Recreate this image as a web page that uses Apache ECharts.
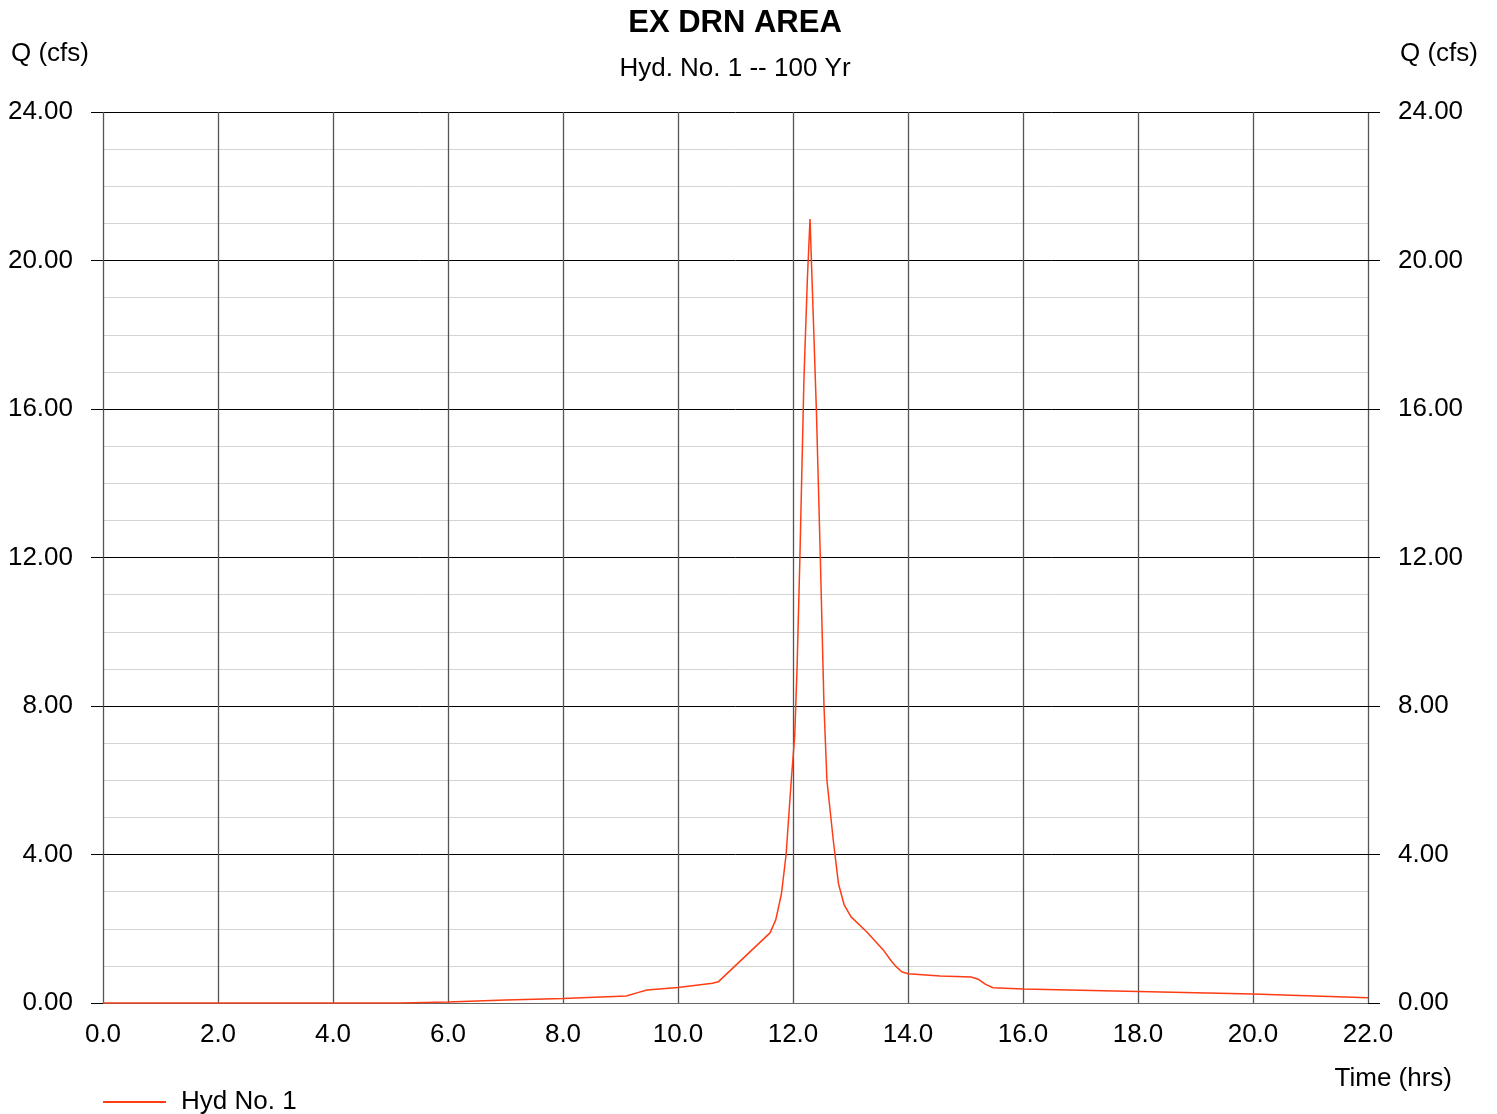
<!DOCTYPE html>
<html>
<head>
<meta charset="utf-8">
<script src="https://cdn.jsdelivr.net/npm/echarts@6/dist/echarts.min.js"></script>
<style>
  html, body { margin: 0; padding: 0; background: #fff; }
  #chart { width: 1497px; height: 1114px; }
</style>
</head>
<body>
<div id="chart"></div>
<script>
// hydrograph: time (hrs) and flow (cfs)
var times = [0, 5.2, 6, 7, 8, 9.1, 9.3, 9.46, 10, 10.6, 10.7, 11.6, 11.7, 11.8, 11.88, 11.97,
    12.03, 12.07, 12.12, 12.19, 12.25, 12.296, 12.406, 12.475, 12.539, 12.59, 12.7, 12.79,
    12.89, 13.01, 13.28, 13.57, 13.7, 13.78, 13.89, 14.0, 14.56, 15.1, 15.22, 15.35, 15.48,
    16, 18, 20, 22];
var flows = [0, 0, 0.03, 0.08, 0.12, 0.19, 0.28, 0.35, 0.42, 0.53, 0.57, 1.89, 2.24, 2.95, 4.0, 6.0,
    7.2, 9.0, 12.0, 16.8, 19.5, 21.12, 16.0, 12.0, 8.0, 6.0, 4.39, 3.22,
    2.64, 2.32, 1.92, 1.43, 1.15, 1.0, 0.84, 0.79, 0.73, 0.7, 0.64, 0.5, 0.41,
    0.38, 0.31, 0.24, 0.14];
var xTicks = { min: 0, max: 22, step: 2 };
var yTicks = { min: 0, max: 24, step: 4 };

var points = times.map(function (t, i) { return [t, flows[i]]; });

var font = "Liberation Sans, Arial, sans-serif";
var myChart = echarts.init(document.getElementById("chart"));

var yAxisBase = {
    type: "value",
    min: yTicks.min,
    max: yTicks.max,
    interval: yTicks.step,
    axisLine: { show: false },
    axisTick: { show: true, length: 12, lineStyle: { color: "#000" } },
    axisLabel: {
        fontSize: 26, fontFamily: font, color: "#000", margin: 30,
        padding: [4, 0, 0, 0],
        formatter: function (v) { return v.toFixed(2); }
    },
};

var option = {
    animation: false,
    backgroundColor: "#fff",
    grid: { left: 103, right: 129, top: 112, bottom: 111, containLabel: false },
    xAxis: {
        type: "value",
        min: xTicks.min,
        max: xTicks.max,
        interval: xTicks.step,
        axisLine: { show: true, lineStyle: { color: "#666", width: 1 } },
        axisTick: { show: false },
        axisLabel: {
            fontSize: 26, fontFamily: font, color: "#000", margin: 19,
            formatter: function (v) { return v.toFixed(1); }
        },
        splitLine: { show: true, lineStyle: { color: "#555", width: 1.3 } },
    },
    yAxis: [
        Object.assign({}, yAxisBase, {
            position: "left",
            splitLine: { show: true, lineStyle: { color: "#000", width: 1 } },
            minorTick: { show: false, splitNumber: 4 },
            minorSplitLine: { show: true, lineStyle: { color: "#d4d4d4", width: 1 } },
        }),
        Object.assign({}, yAxisBase, {
            position: "right",
            splitLine: { show: false },
        }),
    ],
    legend: {
        left: 103,
        top: 1089,
        padding: 0,
        itemWidth: 63,
        itemHeight: 2,
        textStyle: { fontSize: 26, fontFamily: font, color: "#000", padding: [0, 0, 0, 10] },
        data: [{ name: "Hyd No. 1", icon: "rect" }],
    },
    graphic: [
        { type: "text", x: 735, y: 23, style: { text: "EX DRN AREA", fontSize: 31, fontWeight: "bold", fontFamily: font, fill: "#000", align: "center", verticalAlign: "middle" } },
        { type: "text", x: 735, y: 69, style: { text: "Hyd. No. 1 -- 100 Yr", fontSize: 26, fontFamily: font, fill: "#000", align: "center", verticalAlign: "middle" } },
        { type: "text", x: 11, y: 54, style: { text: "Q (cfs)", fontSize: 26, fontFamily: font, fill: "#000", align: "left", verticalAlign: "middle" } },
        { type: "text", x: 1478, y: 54, style: { text: "Q (cfs)", fontSize: 26, fontFamily: font, fill: "#000", align: "right", verticalAlign: "middle" } },
        { type: "text", x: 1452, y: 1079, style: { text: "Time (hrs)", fontSize: 26, fontFamily: font, fill: "#000", align: "right", verticalAlign: "middle" } },
    ],
    series: [
        {
            name: "Hyd No. 1",
            type: "line",
            data: points,
            symbol: "none",
            lineStyle: { color: "#ff3c14", width: 1.5 },
            itemStyle: { color: "#ff3c14" },
            z: 5,
        },
    ],
};
myChart.setOption(option);
</script>
</body>
</html>
